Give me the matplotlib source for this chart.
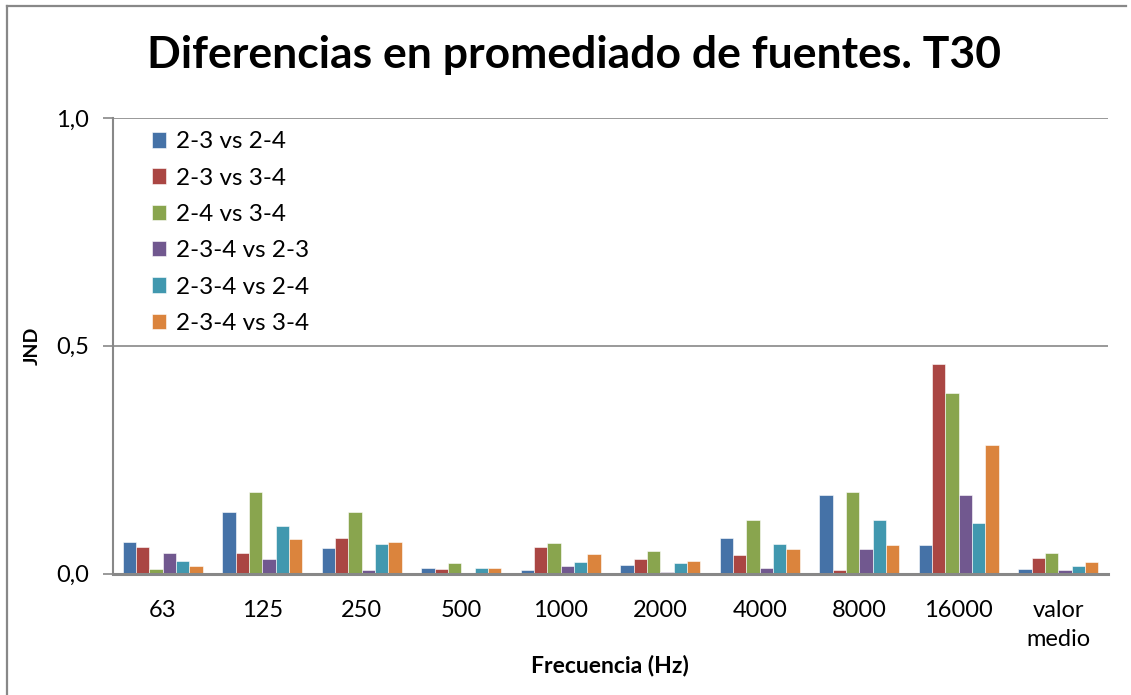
import numpy as np
import matplotlib
matplotlib.use("Agg")
import matplotlib.pyplot as plt
from matplotlib.lines import Line2D

plt.rcParams['font.family'] = ['Lato', 'DejaVu Sans']

categories = ['63', '125', '250', '500', '1000', '2000', '4000', '8000', '16000', 'valor\nmedio']
series_names = ['2-3 vs 2-4', '2-3 vs 3-4', '2-4 vs 3-4',
                '2-3-4 vs 2-3', '2-3-4 vs 2-4', '2-3-4 vs 3-4']

s_23_24 = [0.070, 0.136, 0.057, 0.012, 0.008, 0.019, 0.077, 0.173, 0.062, 0.009]
s_23_34 = [0.059, 0.044, 0.077, 0.010, 0.059, 0.032, 0.041, 0.007, 0.461, 0.035]
s_24_34 = [0.010, 0.179, 0.134, 0.023, 0.067, 0.050, 0.118, 0.180, 0.396, 0.045]
s_234_23 = [0.044, 0.031, 0.007, 0.001, 0.017, 0.004, 0.012, 0.053, 0.172, 0.007]
s_234_24 = [0.028, 0.105, 0.064, 0.012, 0.025, 0.023, 0.065, 0.117, 0.110, 0.017]
s_234_34 = [0.016, 0.075, 0.070, 0.011, 0.042, 0.028, 0.053, 0.062, 0.283, 0.026]

series = [s_23_24, s_23_34, s_24_34, s_234_23, s_234_24, s_234_34]
colors = ['#4572A7', '#AA4643', '#89A54E', '#71588F', '#4198AF', '#DB843D']

W, H = 1131, 695
fig = plt.figure(figsize=(W / 100, H / 100), dpi=100)
fig.patch.set_linewidth(0)
ax = fig.add_axes([113 / W, 1 - 573.5 / H, (1108 - 113) / W, (573.5 - 118) / H])

# chart border: left and top edges only
fig.lines.append(Line2D([7 / W, 7 / W], [0.0, 1 - 6 / H],
                        transform=fig.transFigure, color='#888888', linewidth=1.6))
fig.lines.append(Line2D([7 / W, 0.996], [1 - 6 / H, 1 - 6 / H],
                        transform=fig.transFigure, color='#888888', linewidth=1.6))

x = np.arange(len(categories))
w = 0.8 / len(series)
for i, (vals, name, c) in enumerate(zip(series, series_names, colors)):
    ax.bar(x - 0.4 + w * (i + 0.5), vals, width=w, color=c, label=name,
           edgecolor='white', linewidth=0.4, zorder=3)

ax.set_xlim(-0.5, len(categories) - 0.5)
ax.set_ylim(0, 1.0)
ax.set_yticks([0, 0.5, 1.0])
ax.set_yticklabels(['0,0', '0,5', '1,0'], fontsize=17)
ax.set_xticks(x)
ax.set_xticklabels(categories, fontsize=17, linespacing=1.5, va='top')
ax.tick_params(axis='x', length=0, pad=19)
ax.tick_params(axis='y', length=7, width=1.2, color='#888888', pad=10)
ax.yaxis.grid(True, color='#888888', linewidth=1.2, zorder=0)

for side in ['top', 'right']:
    ax.spines[side].set_visible(False)
ax.spines['left'].set_color('#888888')
ax.spines['left'].set_linewidth(1.5)
ax.spines['bottom'].set_color('#888888')
ax.spines['bottom'].set_linewidth(2.2)
ax.spines['bottom'].set_zorder(4)

fig.text(574 / W, 1 - 55 / H, 'Diferencias en promediado de fuentes. T30',
         ha='center', va='center', fontsize=32, fontweight='bold')
fig.text(610 / W, 1 - 665 / H, 'Frecuencia (Hz)', ha='center', va='center',
         fontsize=16.5, fontweight='bold')
fig.text(32 / W, 1 - 346 / H, 'JND', ha='center', va='center',
         fontsize=14, fontweight='bold', rotation=90)

ax.legend(loc='upper left', bbox_to_anchor=(0.029, 0.992), frameon=False,
          fontsize=17.5, handlelength=0.6, handleheight=0.6, handletextpad=0.4,
          labelspacing=0.63, borderaxespad=0)

fig.savefig('out.png', dpi=100)
